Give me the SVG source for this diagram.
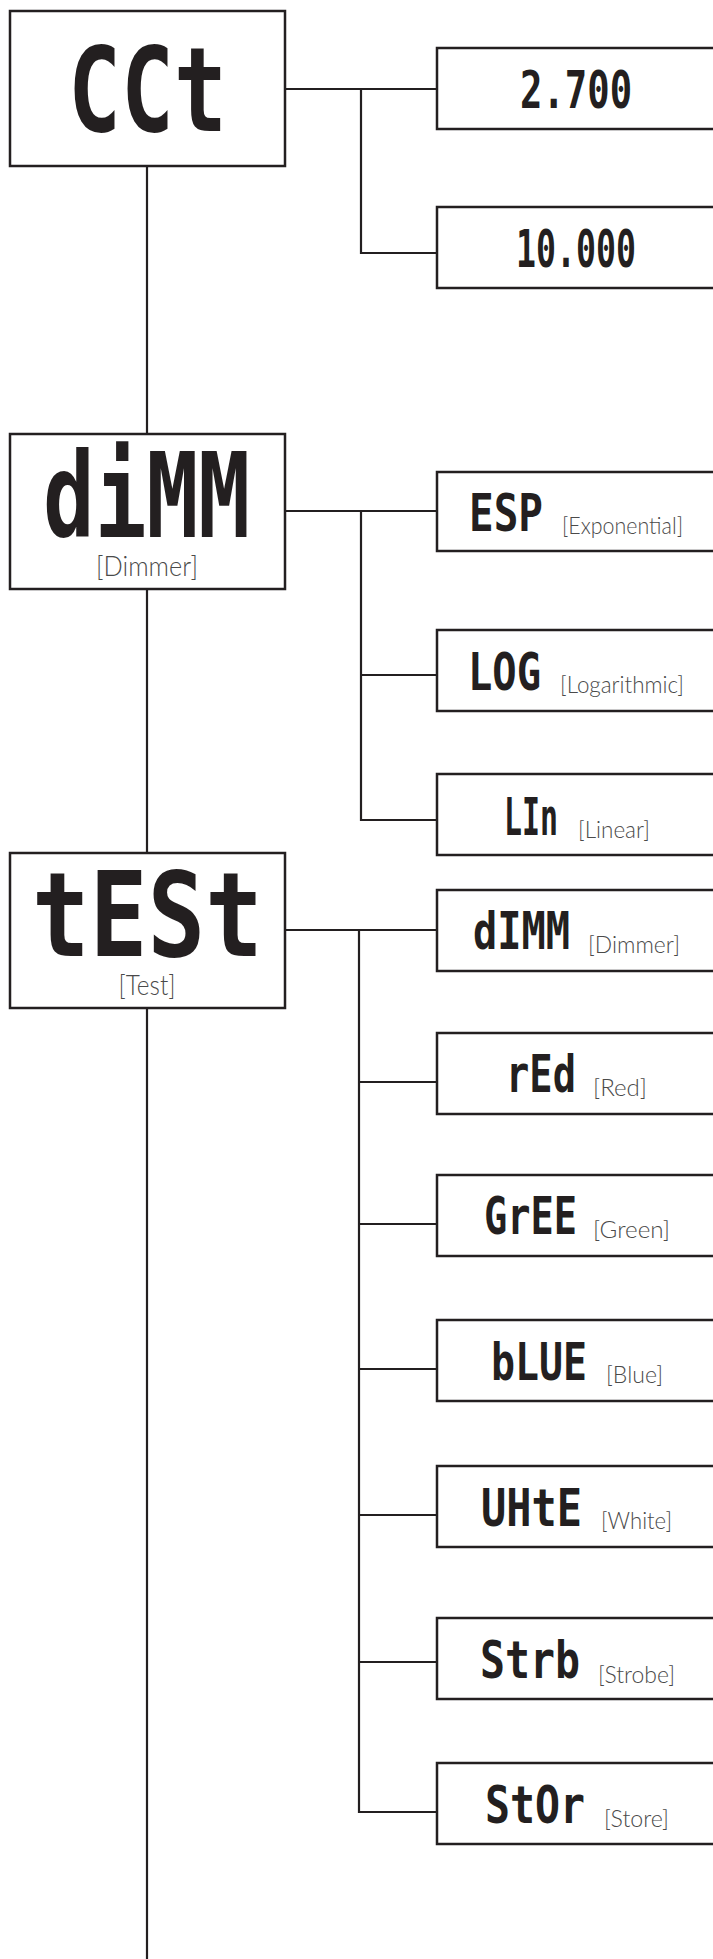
<svg xmlns="http://www.w3.org/2000/svg" width="713" height="1959" viewBox="0 0 713 1959">
<style>
.box{fill:#fff;stroke:#231f20;stroke-width:2.5}
.ln{fill:none;stroke:#231f20;stroke-width:2.2}
.seg{font-family:"DejaVu Sans Mono","Liberation Mono",monospace;font-weight:bold;fill:#231f20}
.big{font-size:117px}
.med{font-size:52px}
.lab{font-family:Lato,"Open Sans","Liberation Sans",sans-serif;font-weight:300;fill:#4a4a4a;font-size:24px}
.mlab{font-size:27px;text-anchor:middle}
</style>
<rect width="713" height="1959" fill="#fff"/>
<g id="connectors">
<path class="ln" d="M147 166V434M147 589V853M147 1008V1959"/>
<path class="ln" d="M285 89H437M361 89V253H437"/>
<path class="ln" d="M285 511H437M361 511V820H437M361 675H437"/>
<path class="ln" d="M285 930H437M359 930V1812H437M359 1082H437M359 1224H437M359 1369H437M359 1515H437M359 1662H437"/>
</g>
<g id="cct">
<rect class="box" x="10" y="11" width="275" height="155"/>
<text class="seg big" transform="translate(68 131) scale(0.753 1)">CCt</text>
</g>
<g id="cct-2700">
<rect class="box" x="437" y="48" width="300" height="81"/>
<text class="seg med" transform="translate(520 108) scale(0.716 1)">2.700</text>
</g>
<g id="cct-10000">
<rect class="box" x="437" y="207" width="300" height="81"/>
<text class="seg med" transform="translate(516 267) scale(0.639 1)">10.000</text>
</g>
<g id="dimm">
<rect class="box" x="10" y="434" width="275" height="155"/>
<text class="seg big" transform="translate(43 537) scale(0.735 1)">diMM</text>
<text class="lab mlab" x="147" y="576" textLength="102" lengthAdjust="spacingAndGlyphs">[Dimmer]</text>
</g>
<g id="dimm-esp">
<rect class="box" x="437" y="472" width="300" height="79"/>
<text class="seg med" transform="translate(469 531) scale(0.788 1)">ESP</text>
<text class="lab" x="562" y="534" textLength="121" lengthAdjust="spacingAndGlyphs">[Exponential]</text>
</g>
<g id="dimm-log">
<rect class="box" x="437" y="630" width="300" height="81"/>
<text class="seg med" transform="translate(468 690) scale(0.777 1)">LOG</text>
<text class="lab" x="560" y="693" textLength="124" lengthAdjust="spacingAndGlyphs">[Logarithmic]</text>
</g>
<g id="dimm-lin">
<rect class="box" x="437" y="774" width="300" height="81"/>
<text class="seg med" transform="translate(504 835) scale(0.575 1)">LIn</text>
<text class="lab" x="578" y="838" textLength="72" lengthAdjust="spacingAndGlyphs">[Linear]</text>
</g>
<g id="test">
<rect class="box" x="10" y="853" width="275" height="155"/>
<text class="seg big" transform="translate(32 956) scale(0.82 1)">tESt</text>
<text class="lab mlab" x="147" y="995" textLength="57" lengthAdjust="spacingAndGlyphs">[Test]</text>
</g>
<g id="test-dimm">
<rect class="box" x="437" y="890" width="300" height="81"/>
<text class="seg med" transform="translate(473 949) scale(0.775 1)">dIMM</text>
<text class="lab" x="588" y="953" textLength="92" lengthAdjust="spacingAndGlyphs">[Dimmer]</text>
</g>
<g id="test-red">
<rect class="box" x="437" y="1033" width="300" height="81"/>
<text class="seg med" transform="translate(506 1092) scale(0.745 1)">rEd</text>
<text class="lab" x="593" y="1096" textLength="54" lengthAdjust="spacingAndGlyphs">[Red]</text>
</g>
<g id="test-green">
<rect class="box" x="437" y="1175" width="300" height="81"/>
<text class="seg med" transform="translate(484 1234) scale(0.743 1)">GrEE</text>
<text class="lab" x="593" y="1238" textLength="77" lengthAdjust="spacingAndGlyphs">[Green]</text>
</g>
<g id="test-blue">
<rect class="box" x="437" y="1320" width="300" height="81"/>
<text class="seg med" transform="translate(491 1380) scale(0.767 1)">bLUE</text>
<text class="lab" x="606" y="1383" textLength="57" lengthAdjust="spacingAndGlyphs">[Blue]</text>
</g>
<g id="test-white">
<rect class="box" x="437" y="1466" width="300" height="81"/>
<text class="seg med" transform="translate(481 1526) scale(0.807 1)">UHtE</text>
<text class="lab" x="601" y="1529" textLength="71" lengthAdjust="spacingAndGlyphs">[White]</text>
</g>
<g id="test-strobe">
<rect class="box" x="437" y="1618" width="300" height="81"/>
<text class="seg med" transform="translate(480 1678) scale(0.799 1)">Strb</text>
<text class="lab" x="598" y="1683" textLength="77" lengthAdjust="spacingAndGlyphs">[Strobe]</text>
</g>
<g id="test-store">
<rect class="box" x="437" y="1763" width="300" height="81"/>
<text class="seg med" transform="translate(485 1823) scale(0.799 1)">StOr</text>
<text class="lab" x="604" y="1827" textLength="65" lengthAdjust="spacingAndGlyphs">[Store]</text>
</g>
</svg>
